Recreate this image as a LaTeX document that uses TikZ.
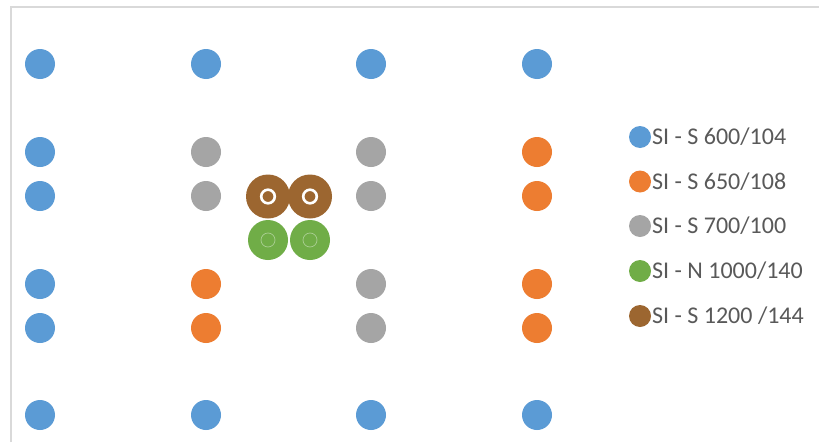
\documentclass[tikz,border=0pt]{standalone}
\usepackage{fontspec}
\setmainfont{Carlito}
\definecolor{cblue}{HTML}{5B9BD5}
\definecolor{corange}{HTML}{ED7D31}
\definecolor{cgray}{HTML}{A5A5A5}
\definecolor{cgreen}{HTML}{70AD47}
\definecolor{cbrown}{HTML}{9C6630}
\definecolor{cframe}{HTML}{D9D9D9}
\definecolor{ctext}{HTML}{595959}
\begin{document}
\begin{tikzpicture}[x=1pt,y=-1pt,
  dot/.style={circle,inner sep=0pt,minimum size=30pt,fill=#1},
  bigdot/.style={circle,inner sep=0pt,minimum size=44pt,fill=#1},
  gdot/.style={circle,inner sep=0pt,minimum size=40pt,fill=#1},
  lmark/.style={circle,inner sep=0pt,minimum size=22pt,fill=#1},
  ltext/.style={anchor=west,inner sep=0pt,text=ctext,font=\fontsize{24}{28}\selectfont}]
\useasboundingbox (0,0) rectangle (819,442);
\fill[white] (0,0) rectangle (819,442);
\draw[cframe,line width=2pt] (11,442) -- (11,6.5) -- (819,6.5);
% column 1
\node[dot=cblue] (a1) at (40,64) {};
\node[dot=cblue] (a2) at (40,152) {};
\node[dot=cblue] (a3) at (40,196) {};
\node[dot=cblue] (a4) at (40,284) {};
\node[dot=cblue] (a5) at (40,328) {};
\node[dot=cblue] (a6) at (40,415) {};
% column 2
\node[dot=cblue] (b1) at (206,64) {};
\node[dot=cgray] (b2) at (206,152) {};
\node[dot=cgray] (b3) at (206,196) {};
\node[dot=corange] (b4) at (206,284) {};
\node[dot=corange] (b5) at (206,328) {};
\node[dot=cblue] (b6) at (206,415) {};
% column 3
\node[dot=cblue] (c1) at (371,64) {};
\node[dot=cgray] (c2) at (371,152) {};
\node[dot=cgray] (c3) at (371,196) {};
\node[dot=cgray] (c4) at (371,284) {};
\node[dot=cgray] (c5) at (371,328) {};
\node[dot=cblue] (c6) at (371,415) {};
% column 4
\node[dot=cblue] (d1) at (537,64) {};
\node[dot=corange] (d2) at (537,152) {};
\node[dot=corange] (d3) at (537,196) {};
\node[dot=corange] (d4) at (537,284) {};
\node[dot=corange] (d5) at (537,328) {};
\node[dot=cblue] (d6) at (537,415) {};
% centre group
\node[gdot=cgreen] (g1) at (268,240) {};
\node[gdot=cgreen] (g2) at (310,240) {};
\draw[color=cgreen!60!white,line width=0.7pt] (g1.center) circle (7);
\draw[color=cgreen!60!white,line width=0.7pt] (g2.center) circle (7);
\node[bigdot=cbrown] (s1) at (268,196.5) {};
\node[bigdot=cbrown] (s2) at (310,196.5) {};
\draw[white,line width=2.6pt] (s1.center) circle (6.8);
\draw[white,line width=2.6pt] (s2.center) circle (6.8);
% legend
\node[lmark=cblue] (m1) at (640,137) {};
\node[ltext] (t1) at (652,137) {SI - S 600/104};
\node[lmark=corange] (m2) at (640,181.5) {};
\node[ltext] (t2) at (652,181.5) {SI - S 650/108};
\node[lmark=cgray] (m3) at (640,226) {};
\node[ltext] (t3) at (652,226) {SI - S 700/100};
\node[lmark=cgreen] (m4) at (640,271) {};
\node[ltext] (t4) at (652,271) {SI - N 1000/140};
\node[lmark=cbrown] (m5) at (640,316) {};
\node[ltext] (t5) at (652,316) {SI - S 1200 /144};
\end{tikzpicture}
\end{document}
